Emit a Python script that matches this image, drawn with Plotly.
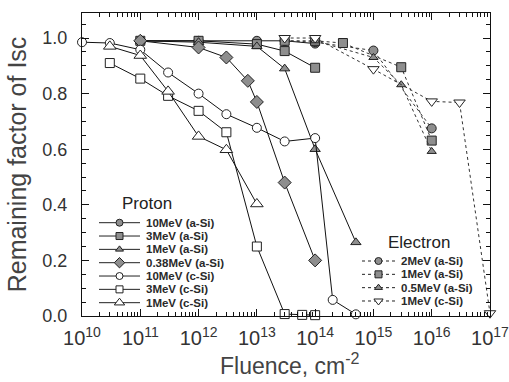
import plotly.graph_objects as go

# ---------------- data ----------------
# Proton irradiation
p10_asi_x = [1e11, 1e12, 1e13, 3e13, 1e14]
p10_asi_y = [0.99, 0.99, 0.99, 0.99, 0.98]

p3_asi_x = [1e11, 1e12, 1e13, 3e13, 1e14]
p3_asi_y = [0.99, 0.99, 0.978, 0.953, 0.893]

p1_asi_x = [1e11, 1e12, 1e13, 3e13, 1e14, 5e14]
p1_asi_y = [0.99, 0.985, 0.97, 0.89, 0.60, 0.265]

p038_asi_x = [1e11, 1e12, 3e12, 7e12, 1e13, 3e13, 1e14]
p038_asi_y = [0.99, 0.966, 0.93, 0.846, 0.77, 0.48, 0.20]

p10_csi_x = [1e10, 3e10, 1e11, 3e11, 1e12, 3e12, 1e13, 3e13, 1e14, 2e14, 5e14]
p10_csi_y = [0.985, 0.982, 0.958, 0.876, 0.80, 0.726, 0.677, 0.628, 0.64, 0.058, 0.006]

p3_csi_x = [3e10, 1e11, 3e11, 1e12, 3e12, 1e13, 3e13, 6e13, 1e14]
p3_csi_y = [0.91, 0.854, 0.792, 0.738, 0.661, 0.25, 0.007, 0.004, 0.003]

p1_csi_x = [3e10, 1e11, 3e11, 1e12, 3e12, 1e13]
p1_csi_y = [0.97, 0.937, 0.808, 0.646, 0.598, 0.403]

# Electron irradiation
e2_asi_x = [3e13, 1e14, 1e15, 1e16]
e2_asi_y = [0.99, 0.985, 0.955, 0.675]

e1_asi_x = [3e13, 1e14, 3e14, 3e15, 1e16]
e1_asi_y = [0.99, 0.99, 0.982, 0.895, 0.631]

e05_asi_x = [1e14, 1e15, 3e15, 1e16]
e05_asi_y = [0.99, 0.93, 0.832, 0.592]

e1_csi_x = [3e13, 1e14, 1e15, 1e16, 3e16, 1e17]
e1_csi_y = [1.0, 1.0, 0.888, 0.772, 0.768, 0.01]

proton_labels = ["10MeV (a-Si)", "3MeV (a-Si)", "1MeV (a-Si)", "0.38MeV (a-Si)",
                 "10MeV (c-Si)", "3MeV (c-Si)", "1MeV (c-Si)"]
electron_labels = ["2MeV (a-Si)", "1MeV (a-Si)", "0.5MeV (a-Si)", "1MeV (c-Si)"]

x_tick_exps = [10, 11, 12, 13, 14, 15, 16, 17]
y_tick_vals = [0.0, 0.2, 0.4, 0.6, 0.8, 1.0]

# ---------------- styles ----------------
FONT = "Liberation Sans, Arial, sans-serif"
GRAY = "#8e8e8e"
EDGE = "#222222"
WHITE = "#ffffff"

proton_series = [
    (p10_asi_x, p10_asi_y, "circle", GRAY, 9),
    (p3_asi_x, p3_asi_y, "square", GRAY, 9),
    (p1_asi_x, p1_asi_y, "triangle-up", GRAY, 9),
    (p038_asi_x, p038_asi_y, "diamond", GRAY, 10),
    (p10_csi_x, p10_csi_y, "circle", WHITE, 9),
    (p3_csi_x, p3_csi_y, "square", WHITE, 9),
    (p1_csi_x, p1_csi_y, "triangle-up", WHITE, 11),
]
electron_series = [
    (e2_asi_x, e2_asi_y, "circle", GRAY, 9),
    (e1_asi_x, e1_asi_y, "square", GRAY, 9),
    (e05_asi_x, e05_asi_y, "triangle-up", GRAY, 8),
    (e1_csi_x, e1_csi_y, "triangle-down", WHITE, 10),
]

fig = go.Figure()

for (xs, ys, sym, fill, sz) in proton_series:
    fig.add_trace(go.Scatter(
        x=xs, y=ys, mode="lines+markers", showlegend=False, cliponaxis=False,
        line=dict(color="#111111", width=1),
        marker=dict(symbol=sym, size=sz, color=fill, line=dict(color=EDGE, width=1)),
    ))

for (xs, ys, sym, fill, sz) in electron_series:
    fig.add_trace(go.Scatter(
        x=xs, y=ys, mode="lines+markers", showlegend=False, cliponaxis=False,
        line=dict(color="#333333", width=1, dash="3px,3px"),
        marker=dict(symbol=sym, size=sz, color=fill, line=dict(color=EDGE, width=1)),
    ))

# ---------------- hand-made legends (on an overlay pixel-like axis) ----------------
PW, PH = 408, 303  # plot area in px


def add_legend(series, labels, title, x_line0, x_line1, x_text, y_first, dy,
               title_x, title_y, dash):
    xm = (x_line0 + x_line1) / 2
    for i, ((_, _, sym, fill, sz), lab) in enumerate(zip(series, labels)):
        yy = y_first - i * dy
        fig.add_trace(go.Scatter(
            x=[x_line0, xm, x_line1], y=[yy, yy, yy], xaxis="x2", yaxis="y2",
            mode="lines", showlegend=False, hoverinfo="skip",
            line=dict(color="#222222", width=1, dash=dash),
        ))
        fig.add_trace(go.Scatter(
            x=[xm], y=[yy], xaxis="x2", yaxis="y2", mode="markers",
            showlegend=False, hoverinfo="skip",
            marker=dict(symbol=sym, size=max(sz - 2, 7), color=fill,
                        line=dict(color=EDGE, width=1)),
        ))
        fig.add_annotation(x=x_text, y=yy, xref="x2", yref="y2",
                           text=f"<b>{lab}</b>",
                           showarrow=False, xanchor="left", yanchor="middle",
                           font=dict(family=FONT, size=11.5, color="#2a2a2a"))
    fig.add_annotation(x=title_x, y=title_y, xref="x2", yref="y2", text=title,
                       showarrow=False, xanchor="left", yanchor="middle",
                       font=dict(family=FONT, size=17, color="#222222"))


add_legend(proton_series, proton_labels, "Proton", 17, 58, 62, 93.3, 13.33,
           38, 112.5, "solid")
add_legend(electron_series, electron_labels, "Electron", 280, 313, 317, 55, 13.33,
           304, 73.5, "3px,3px")

# x-axis title placed as a paper annotation
fig.add_annotation(x=0.51, y=-(364 - 316) / PH, xref="paper", yref="paper",
                   text="Fluence, cm<sup>-2</sup>", showarrow=False,
                   xanchor="center", yanchor="middle",
                   font=dict(family=FONT, size=23, color="#444444"))

# ---------------- axes ----------------
minor_x = [k * 10 ** e for e in range(10, 17) for k in range(2, 10)]

fig.update_layout(
    width=509, height=382,
    margin=dict(l=82, r=19, t=13, b=66, autoexpand=False),
    paper_bgcolor="white", plot_bgcolor="white",
    font=dict(family=FONT, color="#222222"),
    xaxis=dict(
        type="log", range=[10, 17], showgrid=False, zeroline=False,
        showline=True, linecolor="#111111", linewidth=1, mirror="allticks",
        ticks="inside", ticklen=7, tickcolor="#111111",
        tickvals=[10 ** e for e in x_tick_exps],
        ticktext=[f"10<sup>{e}</sup>" for e in x_tick_exps],
        tickfont=dict(family=FONT, size=20, color="#333333"),
        ticklabelstandoff=4, ticklabeloverflow="allow",
        minor=dict(ticks="inside", ticklen=4, tickcolor="#111111", tickvals=minor_x,
                   showgrid=False),
    ),
    yaxis=dict(
        range=[0, 1.09], showgrid=False, zeroline=False,
        showline=True, linecolor="#111111", linewidth=1, mirror="allticks",
        ticks="inside", ticklen=7, tickcolor="#111111",
        tickvals=y_tick_vals, ticktext=[f"{v:.1f}" for v in y_tick_vals],
        tickfont=dict(family=FONT, size=18, color="#333333"),
        ticklabelstandoff=10,
        minor=dict(ticks="inside", ticklen=4, tickcolor="#111111", dtick=0.05,
                   showgrid=False),
        title=dict(text="Remaining factor of Isc", standoff=8,
                   font=dict(family=FONT, size=25, color="#444444")),
    ),
    xaxis2=dict(overlaying="x", range=[0, PW], visible=False, fixedrange=True),
    yaxis2=dict(overlaying="y", range=[0, PH], visible=False, fixedrange=True),
)

fig.write_html("out.html")
